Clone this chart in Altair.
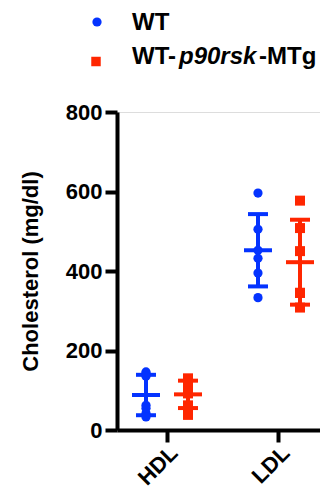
import altair as alt
import pandas as pd

# ---- data ----
groups = ["WT", "WT-p90rsk-MTg"]
lipids = ["HDL", "LDL"]
hdl_wt = [146, 143, 135, 62, 55, 42, 33]
hdl_tg = [130, 118, 98, 92, 62, 38]
ldl_wt = [596, 505, 452, 432, 395, 333]
ldl_tg = [577, 508, 450, 345, 345, 308]
colors = ["#0433FF", "#FF2600"]
shapes = ["circle", "square"]
y_ticks = [0, 200, 400, 600, 800]
y_title = "Cholesterol (mg/dl)"
legend_pieces = [("WT-", "normal"), ("p90rsk", "italic"), ("-MTg", "normal")]

rows = []
for lipid, grp, vals in [("HDL", groups[0], hdl_wt), ("HDL", groups[1], hdl_tg),
                         ("LDL", groups[0], ldl_wt), ("LDL", groups[1], ldl_tg)]:
    for v in vals:
        rows.append({"lipid": lipid, "group": grp, "value": v})
df = pd.DataFrame(rows)

FONT = "Liberation Sans"

x_enc = alt.X("lipid:N",
              scale=alt.Scale(domain=lipids, paddingInner=0.107, paddingOuter=0, range=[0, 212]),
              axis=alt.Axis(title=None, labelAngle=-45, labelFont=FONT, labelFontSize=22,
                            labelFontWeight="bold", labelColor="black", tickSize=12,
                            tickWidth=4, tickColor="black", domainWidth=4,
                            domainColor="black", labelPadding=0, grid=False))
xo_enc = alt.XOffset("group:N",
                     scale=alt.Scale(domain=groups, paddingInner=0, paddingOuter=0.19))
color_enc = alt.Color("group:N", scale=alt.Scale(domain=groups, range=colors), legend=None)

y_scale = alt.Scale(domain=[0, 800], nice=False, zero=True)
y_axis = alt.Axis(values=y_ticks, title=y_title, titleFont=FONT, titleFontSize=22,
                  titleFontWeight="bold", titleColor="black", titlePadding=23,
                  labelFont=FONT, labelFontSize=22, labelFontWeight="bold",
                  labelColor="black", tickSize=12, tickWidth=4, tickColor="black",
                  domainWidth=4, domainColor="black", labelPadding=3, grid=False)

base = alt.Chart(df)

stats = base.transform_aggregate(
    mean="mean(value)", sd="stdev(value)", groupby=["lipid", "group"]
).transform_calculate(lo="datum.mean - datum.sd", hi="datum.mean + datum.sd")

rule = stats.mark_rule(strokeWidth=4).encode(
    x=x_enc, xOffset=xo_enc,
    y=alt.Y("lo:Q", scale=y_scale, axis=y_axis), y2="hi:Q", color=color_enc)
mean_tick = stats.mark_tick(thickness=4, size=28, orient="horizontal", opacity=1).encode(
    x=x_enc, xOffset=xo_enc, y=alt.Y("mean:Q", scale=y_scale, axis=y_axis), color=color_enc)
cap_hi = stats.mark_tick(thickness=4, size=20, orient="horizontal", opacity=1).encode(
    x=x_enc, xOffset=xo_enc, y=alt.Y("hi:Q", scale=y_scale, axis=y_axis), color=color_enc)
cap_lo = stats.mark_tick(thickness=4, size=20, orient="horizontal", opacity=1).encode(
    x=x_enc, xOffset=xo_enc, y=alt.Y("lo:Q", scale=y_scale, axis=y_axis), color=color_enc)

points = base.mark_point(filled=True, opacity=1).encode(
    x=x_enc, xOffset=xo_enc,
    y=alt.Y("value:Q", scale=y_scale, axis=y_axis),
    color=color_enc,
    shape=alt.Shape("group:N", scale=alt.Scale(domain=groups, range=shapes), legend=None),
    size=alt.Size("group:N", scale=alt.Scale(domain=groups, range=[85, 100]), legend=None),
)

# ---- manual legend (mixed italic label) ----
one = pd.DataFrame({"k": [0]})
leg_c = alt.Chart(one).mark_point(filled=True, opacity=1, shape=shapes[0], size=85,
                                   color=colors[0]).encode(x=alt.value(-20), y=alt.value(-90))
leg_s = alt.Chart(one).mark_point(filled=True, opacity=1, shape=shapes[1], size=90,
                                   color=colors[1]).encode(x=alt.value(-21), y=alt.value(-50.5))
txt_kw = dict(align="left", baseline="alphabetic", font=FONT, fontSize=24,
              fontWeight="bold", color="black")
leg_t1 = alt.Chart(one).mark_text(text=groups[0], **txt_kw).encode(
    x=alt.value(15), y=alt.value(-82))
xs = [15, 62, 142]
leg_t2 = [alt.Chart(one).mark_text(text=t, fontStyle=st, **txt_kw).encode(
    x=alt.value(xx), y=alt.value(-47.7)) for (t, st), xx in zip(legend_pieces, xs)]

chart = alt.layer(rule, cap_hi, cap_lo, mean_tick, points, leg_c, leg_s, leg_t1, *leg_t2).properties(
    width=203, height=318,
    padding={"left": 109, "top": 104, "right": 0, "bottom": 60},
    autosize=alt.AutoSizeParams(type="none"),
).configure_view(stroke=None).configure(background="white")

chart.save("out.html", embed_options={"renderer": "svg", "actions": False})
